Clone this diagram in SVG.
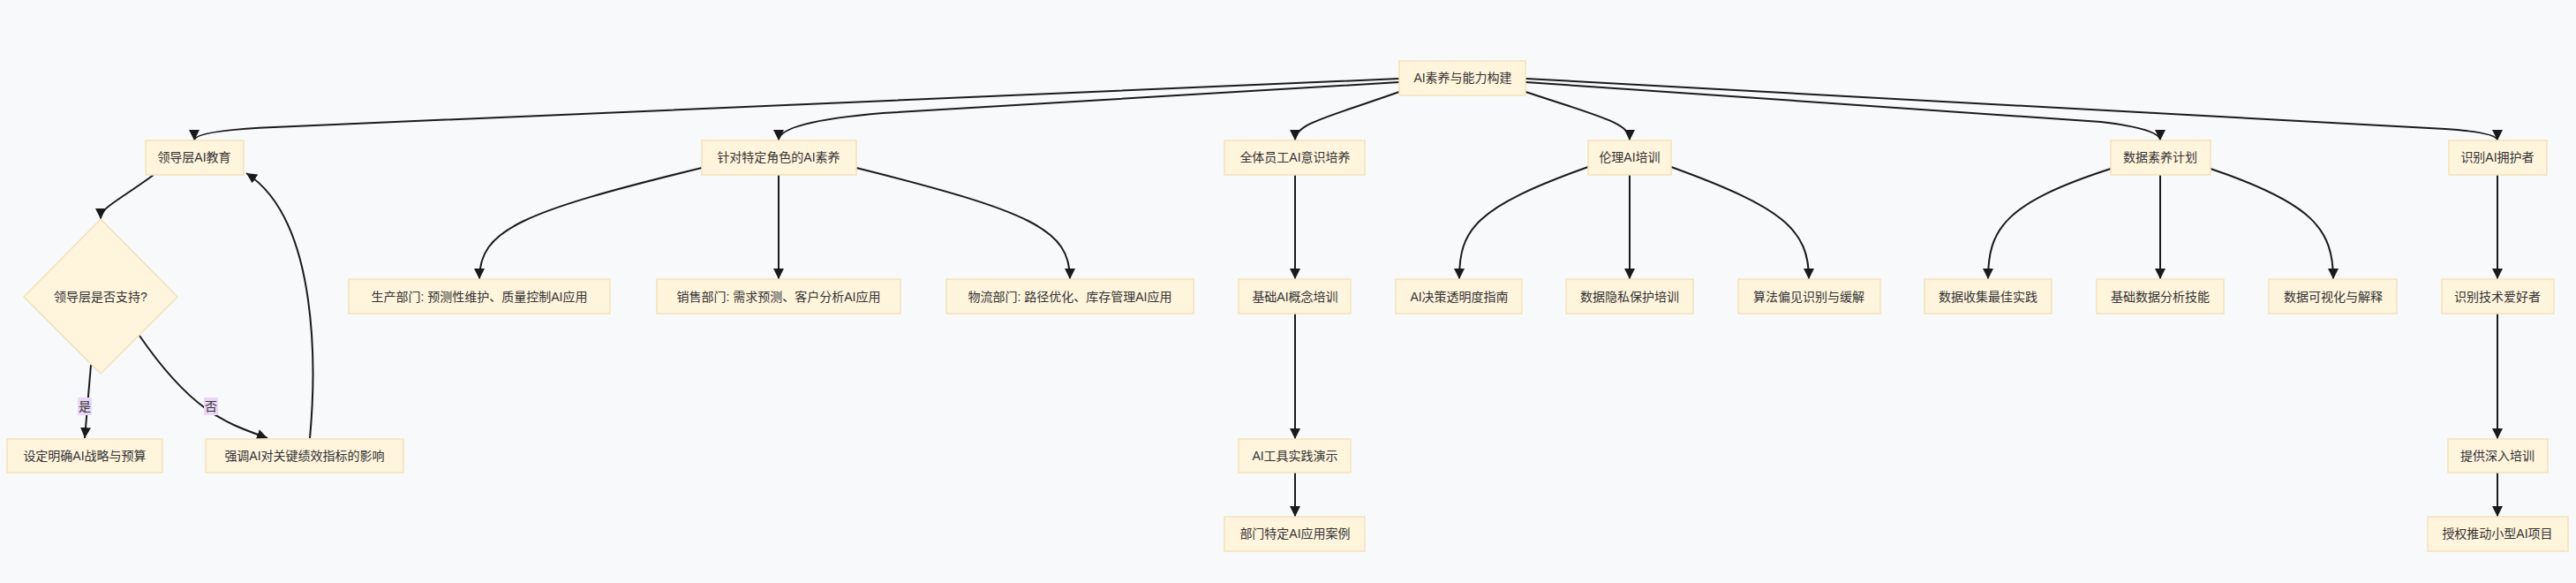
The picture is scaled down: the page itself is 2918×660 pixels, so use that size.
<svg xmlns="http://www.w3.org/2000/svg" width="2918" height="660" viewBox="0 0 2918 660">
<style>
.n rect,.n polygon{fill:#fff4dc;stroke:#f3e2b8;stroke-width:1.5}
.n text{font-family:"Liberation Sans","Noto Sans CJK SC",sans-serif;font-size:14px;fill:#333;text-anchor:middle;dominant-baseline:central}
#edges path{fill:none;stroke:#1a1a1a;stroke-width:2;marker-end:url(#ar)}
.lb rect{fill:#ead7f7}
.lb text{font-family:"Liberation Sans","Noto Sans CJK SC",sans-serif;font-size:14px;fill:#333;text-anchor:middle;dominant-baseline:central}
</style>
<defs><marker id="ar" viewBox="0 0 10 10" refX="10" refY="5" markerWidth="12" markerHeight="12" markerUnits="userSpaceOnUse" orient="auto"><path d="M0,0L10,5L0,10z" fill="#1a1a1a"/></marker></defs>
<rect width="2918" height="660" fill="#f8f9fa"/>
<g id="edges">
<path d="M1585,89 L310,144 Q220,148 220,159"/>
<path d="M1585,93 L1000,128 Q882,138 882,159"/>
<path d="M1585,104 C1500,134 1467,140 1467,159"/>
<path d="M1728,104 C1820,134 1846,140 1846,159"/>
<path d="M1728,93 L2380,138 Q2447,146 2447,159"/>
<path d="M1728,89 L2770,146 Q2829,150 2829,159"/>
<path d="M174,198 C130,230 114,235 114,248"/>
<path d="M103,413 L96,496"/>
<path d="M158,380 C220,470 260,480 303,496"/>
<path d="M351,496 C358,420 362,250 279,196"/>
<path d="M795,190 C590,240 543,260 543,316"/>
<path d="M882,198 L882,316"/>
<path d="M970,190 C1170,240 1212,260 1212,316"/>
<path d="M1467,198 L1467,316"/>
<path d="M1467,355 L1467,497"/>
<path d="M1467,535 L1467,585"/>
<path d="M1799,189 C1670,235 1653,260 1653,316"/>
<path d="M1846,198 L1846,316"/>
<path d="M1893,189 C2020,235 2049,260 2049,316"/>
<path d="M2391,191 C2270,230 2252,260 2252,316"/>
<path d="M2447,198 L2447,316"/>
<path d="M2504,191 C2620,230 2643,260 2643,316"/>
<path d="M2829,198 L2829,316"/>
<path d="M2829,355 L2829,497"/>
<path d="M2829,535 L2829,585"/>
</g>
<g class="lb"><rect x="88" y="450" width="16" height="20"/><text x="96" y="460">是</text><rect x="231" y="450" width="16" height="20"/><text x="239" y="460">否</text></g>
<g id="root" class="n"><rect x="1585" y="69" width="143" height="39"/><text x="1657" y="88">AI素养与能力构建</text></g>
<g id="lead" class="n"><rect x="165" y="159" width="111" height="39"/><text x="220" y="178">领导层AI教育</text></g>
<g id="role" class="n"><rect x="795" y="159" width="175" height="39"/><text x="882" y="178">针对特定角色的AI素养</text></g>
<g id="all" class="n"><rect x="1387" y="159" width="159" height="39"/><text x="1467" y="178">全体员工AI意识培养</text></g>
<g id="ethic" class="n"><rect x="1799" y="159" width="94" height="39"/><text x="1846" y="178">伦理AI培训</text></g>
<g id="data" class="n"><rect x="2391" y="159" width="113" height="39"/><text x="2447" y="178">数据素养计划</text></g>
<g id="champ" class="n"><rect x="2774" y="159" width="111" height="39"/><text x="2829" y="178">识别AI拥护者</text></g>
<g id="dec" class="n"><polygon points="114,248 201,336 114,423 27,336"/><text x="114" y="336">领导层是否支持?</text></g>
<g id="prod" class="n"><rect x="395" y="316" width="296" height="39"/><text x="543" y="336">生产部门: 预测性维护、质量控制AI应用</text></g>
<g id="sales" class="n"><rect x="744" y="316" width="276" height="39"/><text x="882" y="336">销售部门: 需求预测、客户分析AI应用</text></g>
<g id="logi" class="n"><rect x="1072" y="316" width="280" height="39"/><text x="1212" y="336">物流部门: 路径优化、库存管理AI应用</text></g>
<g id="basic" class="n"><rect x="1403" y="316" width="127" height="39"/><text x="1467" y="336">基础AI概念培训</text></g>
<g id="trans" class="n"><rect x="1581" y="316" width="143" height="39"/><text x="1653" y="336">AI决策透明度指南</text></g>
<g id="priv" class="n"><rect x="1774" y="316" width="144" height="39"/><text x="1846" y="336">数据隐私保护培训</text></g>
<g id="bias" class="n"><rect x="1969" y="316" width="161" height="39"/><text x="2049" y="336">算法偏见识别与缓解</text></g>
<g id="coll" class="n"><rect x="2180" y="316" width="144" height="39"/><text x="2252" y="336">数据收集最佳实践</text></g>
<g id="anal" class="n"><rect x="2375" y="316" width="144" height="39"/><text x="2447" y="336">基础数据分析技能</text></g>
<g id="vis" class="n"><rect x="2570" y="316" width="145" height="39"/><text x="2643" y="336">数据可视化与解释</text></g>
<g id="tech" class="n"><rect x="2766" y="316" width="127" height="39"/><text x="2829" y="336">识别技术爱好者</text></g>
<g id="yes" class="n"><rect x="8" y="497" width="176" height="38"/><text x="96" y="516">设定明确AI战略与预算</text></g>
<g id="no" class="n"><rect x="233" y="497" width="224" height="38"/><text x="345" y="516">强调AI对关键绩效指标的影响</text></g>
<g id="tool" class="n"><rect x="1403" y="497" width="127" height="38"/><text x="1467" y="516">AI工具实践演示</text></g>
<g id="deep" class="n"><rect x="2773" y="497" width="113" height="38"/><text x="2829" y="516">提供深入培训</text></g>
<g id="case" class="n"><rect x="1387" y="585" width="159" height="39"/><text x="1467" y="604">部门特定AI应用案例</text></g>
<g id="proj" class="n"><rect x="2750" y="585" width="159" height="39"/><text x="2829" y="604">授权推动小型AI项目</text></g>
</svg>
